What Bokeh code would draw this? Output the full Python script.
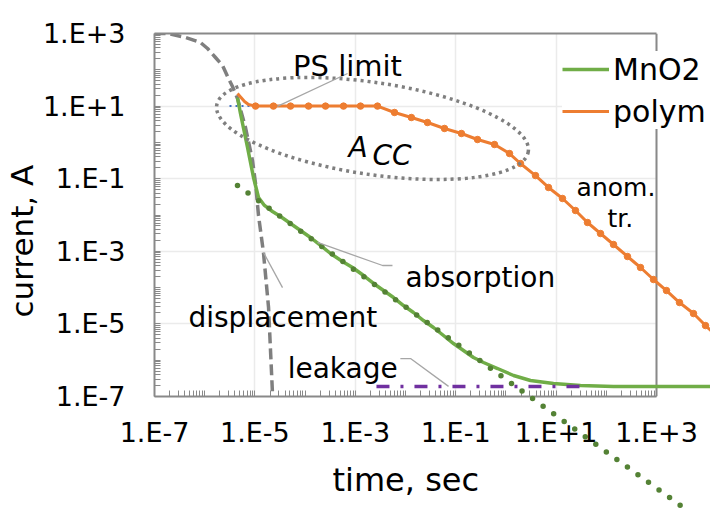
import numpy as np
from bokeh.plotting import figure
from bokeh.models import (Range1d, FixedTicker, Label, Legend, LegendItem,
                          LogAxis, Title)
from bokeh.embed import file_html
from bokeh.resources import INLINE

# ---- axis ticks -------------------------------------------------------
x_ticks = [1e-7, 1e-5, 1e-3, 1e-1, 1e1, 1e3]
x_tick_labels = ["1.E-7", "1.E-5", "1.E-3", "1.E-1", "1.E+1", "1.E+3"]
y_ticks = [1e-7, 1e-5, 1e-3, 1e-1, 1e1, 1e3]
y_tick_labels = ["1.E-7", "1.E-5", "1.E-3", "1.E-1", "1.E+1", "1.E+3"]
x_axis_span = (1e-7, 1e3)     # plot area of the chart
x_view_end = 1.19e4           # curves run on past the plot area to the page edge

# ---- displacement current (charging of the capacitance) ----------------
disp_t = [1.0e-7, 1.82e-7, 4.15e-7, 8.24e-7, 1.14e-6, 1.64e-6, 2.27e-6, 2.98e-6,
          3.58e-6, 4.50e-6, 6.50e-6, 8.95e-6, 1.03e-5, 1.18e-5, 1.48e-5, 1.87e-5,
          2.24e-5, 2.45e-5]
disp_i = [1000, 1000, 776, 565, 386, 218, 131, 57.5,
          34.7, 16.2, 2.57, 0.317, 0.0738, 9.7e-3, 9.3e-4, 2.83e-5,
          1.21e-7, 6.1e-9]

# ---- MnO2 capacitor ------------------------------------------------------
mno2_t = [4.50e-6, 5.16e-6, 7.13e-6, 9.38e-6, 1.18e-5, 1.55e-5, 2.24e-5, 3.24e-5,
          5.12e-5, 8.09e-5, 1.28e-4, 2.03e-4, 3.21e-4, 5.56e-4, 8.79e-4, 1.46e-3,
          2.31e-3, 3.65e-3, 5.77e-3, 9.12e-3, 1.44e-2, 2.28e-2, 3.61e-2, 5.71e-2,
          9.04e-2, 0.143, 0.226, 0.358, 0.681, 1.42, 3.09, 8.87,
          30.6, 139, 1000, 1.19e4]
mno2_i = [17.3, 6.25, 0.723, 0.108, 0.0303, 0.0183, 0.0125, 9.1e-3,
          5.83e-3, 3.74e-3, 2.40e-3, 1.45e-3, 8.7e-4, 5.24e-4, 3.58e-4, 2.15e-4,
          1.30e-4, 8.3e-5, 5.33e-5, 3.21e-5, 2.06e-5, 1.24e-5, 7.96e-6, 4.79e-6,
          2.88e-6, 1.85e-6, 1.19e-6, 8.65e-7, 5.90e-7, 3.79e-7, 2.76e-7, 2.28e-7,
          2.01e-7, 1.88e-7, 1.88e-7, 1.88e-7]

# ---- polymer capacitor (sampled points, the first three are the surge) ---
polym_t = [4.50e-6, 6.21e-6, 7.45e-6,
           1.03e-5, 2.34e-5, 5.12e-5, 1.17e-4, 2.55e-4, 5.82e-4, 1.27e-3, 2.77e-3,
           6.04e-3, 0.0131, 0.0274, 0.0598, 0.130, 0.272, 0.593, 1.18,
           1.95, 3.89, 7.06, 13.4, 24.3, 42.2, 76.6, 139,
           264, 480, 871, 1.58e3, 2.87e3, 5.46e3, 9.46e3, 1.72e4]
polym_i = [22.2, 13.4, 11.1,
           10, 10, 10, 10, 10, 10, 10, 10,
           6.67, 4.85, 3.53, 2.42, 1.76, 1.20, 0.875, 0.494,
           0.262, 0.122, 0.0573, 0.0285, 0.0133, 6.21e-3, 3.09e-3, 1.54e-3,
           7.19e-4, 3.58e-4, 1.67e-4, 8.3e-5, 3.88e-5, 1.93e-5, 9.0e-6, 4.2e-6]
polym_surge = 3  # points before the constant-current plateau carry no marker

# ---- power-supply limit, absorption fit and leakage level -----------------
ps_t = [3.12e-6, 9.38e-6]
ps_i = [10, 10]
absorb_t = [4.50e-6, 1.2e4]
absorb_i = [0.065, 2.5e-11]
leak_t = [2.64e-3, 33.6]
leak_i = [1.9e-7, 1.9e-7]

# ---- callout leader lines ----------------------------------------------
ps_leader_t, ps_leader_i = [7.0e-4, 2.8e-5], [79, 9.8]
abs_leader_t, abs_leader_i = [5.5e-3, 3.5e-3, 1.77e-4], [4.06e-4, 4.06e-4, 1.75e-3]
disp_leader_t, disp_leader_i = [3.55e-5, 1.48e-5], [1.0e-4, 9.3e-4]
leak_leader_t, leak_leader_i = [7.9e-3, 0.0126, 0.072], [1.11e-6, 1.11e-6, 1.9e-7]

FONT = "DejaVu Sans"
AXIS_GRAY = "#898989"

p = figure(width=710, height=508, x_axis_type="log", y_axis_type="log",
           x_range=Range1d(1e-7, x_view_end), y_range=Range1d(1e-7, 1e3),
           output_backend="svg", toolbar_location=None,
           min_border_left=154, min_border_right=0,
           min_border_top=33, min_border_bottom=112)
p.background_fill_color = "white"
p.border_fill_color = "white"
p.outline_line_color = None

minor = [k * 10.0 ** n for n in range(-7, 3) for k in range(1, 10)
         if not (k == 1 and n % 2 != 0)]

for ax, ticks, labels in ((p.xaxis[0], x_ticks, x_tick_labels),
                          (p.yaxis[0], y_ticks, y_tick_labels)):
    ax.ticker = FixedTicker(ticks=ticks, minor_ticks=minor)
    ax.major_label_overrides = dict(zip(ticks, labels))
    ax.axis_line_color = AXIS_GRAY
    ax.axis_line_width = 2
    ax.major_tick_in = 6
    ax.major_tick_out = 0
    ax.minor_tick_in = 6
    ax.minor_tick_out = 0
    ax.major_tick_line_color = AXIS_GRAY
    ax.minor_tick_line_color = AXIS_GRAY
    ax.major_tick_line_width = 1
    ax.minor_tick_line_width = 1
    ax.major_label_text_font = FONT
    ax.major_label_text_font_size = "27px"
    ax.major_label_text_color = "black"

p.xaxis[0].bounds = x_axis_span
p.xaxis[0].major_label_standoff = 20
p.yaxis[0].major_label_standoff = 29

# axis titles: placed against the plot area proper, not the extended view
def axis_title(text, size, offset, standoff):
    return Title(text=text, align="left", offset=offset, vertical_align="bottom",
                 standoff=standoff, text_font=FONT, text_font_size=size,
                 text_font_style="normal", text_color="black")

p.add_layout(axis_title("time, sec", "32px", 178, 16), "below")
p.add_layout(axis_title("current, A", "31px", 79, 0), "left")

# plot-area border on the top and right (plain axes without ticks)
def border_axis(**kw):
    return LogAxis(ticker=FixedTicker(ticks=[], minor_ticks=[]),
                   axis_line_color=AXIS_GRAY, axis_line_width=2,
                   major_tick_in=0, major_tick_out=0,
                   minor_tick_in=0, minor_tick_out=0, **kw)

p.add_layout(border_axis(bounds=x_axis_span), "above")
p.add_layout(border_axis(fixed_location=x_axis_span[1]), "right")

for g in (p.xgrid[0], p.ygrid[0]):
    g.grid_line_color = "#EBEBEB"
    g.grid_line_width = 1.5
p.ygrid[0].cross_bounds = x_axis_span

# ---- data series --------------------------------------------------------
p.line(disp_t, disp_i, line_color="#7F7F7F", line_width=3.5, line_dash="11 5")
p.line(ps_t, ps_i, line_color="#4472C4", line_width=2, line_dash="2 4")
r_mno2 = p.line(mno2_t, mno2_i, line_color="#70AD47", line_width=3.5, level="overlay")
p.line(leak_t, leak_i, line_color="#7030A0", line_width=3.5,
       line_dash="13 11 3 11", level="overlay")
p.line(absorb_t, absorb_i, line_color="#548235", line_width=5.5,
       line_dash="0 13", line_cap="round", level="overlay")
r_polym = p.line(polym_t, polym_i, line_color="#ED7D31", line_width=3, level="overlay")
p.scatter(polym_t[polym_surge:], polym_i[polym_surge:], size=6.5,
          fill_color="#ED7D31", line_color="#ED7D31", level="overlay")

# ---- constant-current region outline ------------------------------------
p.ellipse(x=[2.2e-3], y=[2.42], width=315, height=92,
          width_units="screen", height_units="screen", angle=-0.147,
          fill_color=None, line_color="#7F7F7F", line_width=3.5,
          line_dash="3 4", level="overlay")

# ---- callouts -------------------------------------------------------------
for lt, li in ((ps_leader_t, ps_leader_i), (abs_leader_t, abs_leader_i),
               (disp_leader_t, disp_leader_i), (leak_leader_t, leak_leader_i)):
    p.line(lt, li, line_color="#A6A6A6", line_width=1.3, level="overlay")

def note(x, y, text, size="28px", align="center", style="normal"):
    p.add_layout(Label(x=x, y=y, text=text, text_font=FONT, text_font_size=size,
                       text_font_style=style, text_color="black",
                       text_align=align, text_baseline="alphabetic", level="overlay"))

note(7.0e-4, 131, "PS limit", size="29px")
note(7.3e-4, 0.72, "A", size="28px", align="left", style="italic")
note(2.2e-3, 0.44, "CC", size="28px", align="left", style="italic")
note(156, 0.057, "anom.", size="25px")
note(190, 8.0e-3, "tr.", size="25px")
note(0.31, 1.9e-4, "absorption")
note(3.6e-5, 1.5e-5, "displacement")
note(5.6e-4, 5.9e-7, "leakage")

legend = Legend(items=[LegendItem(label="MnO2", renderers=[r_mno2]),
                       LegendItem(label="polym", renderers=[r_polym])],
                location=(408, 267), orientation="vertical",
                glyph_width=47, glyph_height=36, label_height=36,
                label_standoff=4, spacing=6, padding=2, margin=0,
                border_line_color=None, background_fill_color="white",
                background_fill_alpha=1.0,
                label_text_font=FONT, label_text_font_size="30px",
                label_text_color="black", level="overlay")
p.add_layout(legend)

open("out.html", "w").write(file_html(p, INLINE))
